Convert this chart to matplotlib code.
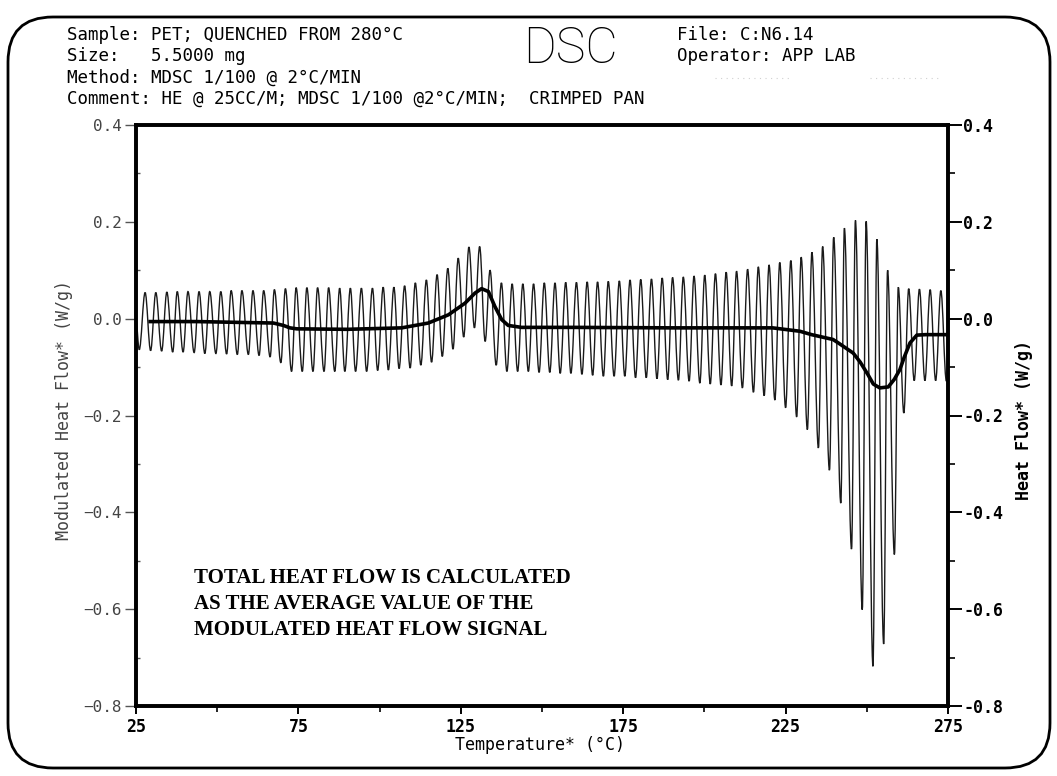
import matplotlib
matplotlib.use('Agg')
import matplotlib.pyplot as plt
from matplotlib.path import Path
from matplotlib.patches import PathPatch, FancyBboxPatch
from matplotlib.lines import Line2D

plt.rcParams['font.family'] = ['DejaVu Sans Mono']

# ---- data ----
# modulated heat flow: temperature (°C) and value (W/g) of each trough / crest
trough_T = [26.0, 29.5, 32.9, 36.3, 39.5, 42.9, 46.2, 49.6, 52.9, 56.2, 59.6, 62.9, 66.3, 69.6, 72.9, 76.2, 79.5, 82.9, 86.2,
            89.3, 92.6, 96.0, 99.4, 102.7, 106.0, 109.4, 112.7, 116.0, 119.3, 122.6, 125.9, 129.2, 132.5, 135.9, 139.2, 142.5, 145.8, 149.1,
            152.4, 155.6, 158.9, 162.3, 165.6, 168.9, 172.2, 175.5, 178.8, 182.1, 185.4, 188.7, 192.0, 195.3, 198.6, 201.8, 205.1, 208.4, 211.7,
            215.1, 218.4, 221.7, 225.0, 228.4, 231.7, 235.1, 238.5, 242.0, 245.3, 248.6, 251.9, 255.2, 258.5, 261.4, 264.6, 267.9, 271.2, 274.5]
trough_v = [-0.064, -0.066, -0.067, -0.069, -0.069, -0.070, -0.072, -0.072, -0.073, -0.074, -0.074, -0.076, -0.079, -0.091, -0.109, -0.109, -0.109, -0.109, -0.109,
            -0.109, -0.109, -0.109, -0.107, -0.106, -0.103, -0.102, -0.096, -0.090, -0.078, -0.063, -0.038, -0.019, -0.047, -0.096, -0.109, -0.109, -0.109, -0.111,
            -0.111, -0.113, -0.113, -0.115, -0.117, -0.119, -0.119, -0.119, -0.122, -0.122, -0.124, -0.126, -0.127, -0.129, -0.133, -0.135, -0.137, -0.139, -0.143,
            -0.152, -0.159, -0.168, -0.184, -0.203, -0.229, -0.267, -0.313, -0.381, -0.476, -0.601, -0.718, -0.672, -0.487, -0.195, -0.128, -0.128, -0.128, -0.129]
peak_T = [27.8, 31.1, 34.5, 37.7, 41.0, 44.4, 47.7, 51.1, 54.3, 57.6, 61.0, 64.3, 67.6, 71.0, 74.3, 77.6, 80.9, 84.3,
          87.7, 91.0, 94.4, 97.8, 101.1, 104.4, 107.7, 111.0, 114.4, 117.7, 121.0, 124.2, 127.5, 130.8, 134.0, 137.5, 140.8, 144.1, 147.4,
          150.7, 154.0, 157.3, 160.6, 163.9, 167.1, 170.4, 173.8, 177.1, 180.4, 183.7, 187.0, 190.2, 193.5, 196.8, 200.1, 203.4, 206.7, 209.9, 213.3,
          216.6, 219.9, 223.2, 226.6, 229.8, 233.1, 236.4, 239.8, 243.1, 246.5, 249.8, 253.1, 256.4, 259.7, 262.9, 266.2, 269.5, 272.8]
peak_v = [0.054, 0.054, 0.055, 0.056, 0.056, 0.056, 0.056, 0.056, 0.058, 0.058, 0.058, 0.058, 0.060, 0.062, 0.064, 0.064, 0.064, 0.064,
          0.063, 0.063, 0.063, 0.063, 0.065, 0.065, 0.068, 0.074, 0.080, 0.091, 0.104, 0.125, 0.148, 0.149, 0.100, 0.074, 0.072, 0.072, 0.072,
          0.074, 0.074, 0.075, 0.075, 0.076, 0.076, 0.077, 0.078, 0.080, 0.081, 0.082, 0.084, 0.085, 0.086, 0.088, 0.090, 0.093, 0.096, 0.098, 0.102,
          0.107, 0.111, 0.116, 0.120, 0.127, 0.137, 0.149, 0.168, 0.187, 0.203, 0.201, 0.164, 0.100, 0.065, 0.062, 0.061, 0.060, 0.058]
mod_start = (25.0, -0.005)
mod_end = (275.0, -0.122)

# total heat flow (average of the modulated signal)
total_T = [28.8, 43.7, 59.0, 67.3, 70.4, 72.4, 74.5, 90.0, 106.8, 115.0, 121.2, 126.3, 129.4, 131.4, 133.5, 135.5, 137.6, 139.6,
           143.7, 160.0, 190.0, 210.0, 221.0, 229.4, 233.0, 239.6, 241.2, 245.8, 248.0, 250.3, 252.0, 254.0, 256.6, 258.5,
           260.2, 261.5, 263.3, 265.4, 268.0, 275.0]
total_v = [-0.006, -0.006, -0.008, -0.009, -0.014, -0.019, -0.021, -0.022, -0.019, -0.009, 0.008, 0.032, 0.053, 0.062, 0.056, 0.025, -0.002, -0.014,
           -0.018, -0.018, -0.019, -0.019, -0.019, -0.026, -0.033, -0.043, -0.050, -0.071, -0.090, -0.115, -0.135, -0.143, -0.141, -0.125,
           -0.105, -0.080, -0.050, -0.034, -0.033, -0.033]

xticks = [25, 75, 125, 175, 225, 275]
yticks = [-0.8, -0.6, -0.4, -0.2, 0.0, 0.2, 0.4]
left_labels = ['\u22120.8', '\u22120.6', '\u22120.4', '\u22120.2', '0.0', '0.2', '0.4']
right_labels = ['-0.8', '-0.6', '-0.4', '-0.2', '0.0', '0.2', '0.4']

header_left = ['Sample: PET; QUENCHED FROM 280\u00b0C',
               'Size:   5.5000 mg',
               'Method: MDSC 1/100 @ 2\u00b0C/MIN',
               'Comment: HE @ 25CC/M; MDSC 1/100 @2\u00b0C/MIN;  CRIMPED PAN']
header_right = ['File: C:N6.14', 'Operator: APP LAB']
note = ['TOTAL HEAT FLOW IS CALCULATED',
        'AS THE AVERAGE VALUE OF THE',
        'MODULATED HEAT FLOW SIGNAL']

W, H = 1057, 776
fig = plt.figure(figsize=(W / 100, H / 100), dpi=100)
ax = fig.add_axes([136 / W, 1 - 706 / H, 812 / W, 581 / H])
ax.set_xlim(25, 275)
ax.set_ylim(-0.8, 0.4)

# modulated signal: smooth crest/trough path (horizontal tangents at extremes)
ext = []
for i in range(len(trough_T)):
    ext.append((trough_T[i], trough_v[i]))
    if i < len(peak_T):
        ext.append((peak_T[i], peak_v[i]))
verts = [mod_start]
codes = [Path.MOVETO]
prev = mod_start
for p in ext + [mod_end]:
    k = 0.364 * (p[0] - prev[0])
    verts += [(prev[0] + k, prev[1]), (p[0] - k, p[1]), p]
    codes += [Path.CURVE4] * 3
    prev = p
ax.add_patch(PathPatch(Path(verts, codes), facecolor='none', edgecolor='#1a1a1a', lw=1.0))

ax.plot(total_T, total_v, color='black', lw=2.6, solid_joinstyle='round', solid_capstyle='butt')

for s in ax.spines.values():
    s.set_linewidth(2.6)

ax.set_xticks(xticks)
ax.set_xticks([50, 100, 150, 200, 250], minor=True)
ax.set_xticklabels([str(t) for t in xticks])
ax.set_yticks(yticks)
ax.set_yticks([-0.7, -0.5, -0.3, -0.1, 0.1, 0.3], minor=True)
ax.set_yticklabels(left_labels)
ax.tick_params(axis='x', which='major', direction='out', length=6, width=1.4, pad=3, labelsize=12)
ax.tick_params(axis='x', which='minor', direction='out', length=4, width=1.2)
for lab in ax.get_xticklabels():
    lab.set_fontweight('bold')
ax.tick_params(axis='y', which='major', direction='out', length=8, width=1.0, pad=2,
               labelsize=11.5, labelcolor='#444444', color='#555555')
ax.tick_params(axis='y', which='minor', direction='in', length=3, width=1.0, color='#555555')

ax2 = ax.twinx()
ax2.set_ylim(-0.8, 0.4)
ax2.set_yticks(yticks)
ax2.set_yticks([-0.7, -0.5, -0.3, -0.1, 0.1, 0.3], minor=True)
ax2.set_yticklabels(right_labels, fontweight='bold')
ax2.tick_params(axis='y', which='major', direction='out', length=10, width=1.4, pad=1, labelsize=12)
ax2.tick_params(axis='y', which='minor', direction='out', length=5, width=1.2)
for s in ax2.spines.values():
    s.set_linewidth(2.6)

# axis titles
fig.text(540 / W, 1 - 745 / H, 'Temperature* (\u00b0C)', ha='center', va='center', fontsize=12)
fig.text(64 / W, 1 - 410 / H, 'Modulated Heat Flow* (W/g)', rotation=90, ha='center', va='center',
         fontsize=12, color='#444444')
fig.text(1024 / W, 1 - 420 / H, 'Heat Flow* (W/g)', rotation=90, ha='center', va='center',
         fontsize=12, fontweight='bold')

# header block
for i, line in enumerate(header_left):
    fig.text(67 / W, 1 - (35 + 21.3 * i) / H, line, ha='left', va='center', fontsize=12.6)
for i, line in enumerate(header_right):
    fig.text(677 / W, 1 - (35 + 21.3 * i) / H, line, ha='left', va='center', fontsize=12.6)
fig.text(570 / W, 1 - 63 / H, 'DSC', ha='center', va='baseline', fontsize=36,
         family=['Roboto', 'DejaVu Sans'], fontweight='light')
# faint scanner dots to the right of the method line
for x0, x1 in [(715, 790), (870, 940)]:
    fig.add_artist(Line2D([x0 / W, x1 / W], [1 - 78 / H, 1 - 78 / H], transform=fig.transFigure,
                          color='#d0d0d0', lw=0.8, ls=(0, (1, 4))))

# note inside the plot
for i, line in enumerate(note):
    fig.text(194 / W, 1 - (578 + 26 * i) / H, line, ha='left', va='center',
             fontsize=15, fontweight='bold', family=['Liberation Serif', 'DejaVu Serif'])

# rounded frame round the whole page
fig.patches.append(FancyBboxPatch((8, 8), 1042, 751, boxstyle='round,pad=0,rounding_size=45',
                                  transform=None, fill=False, edgecolor='black', lw=2.0))

fig.savefig('out.png', dpi=100)
